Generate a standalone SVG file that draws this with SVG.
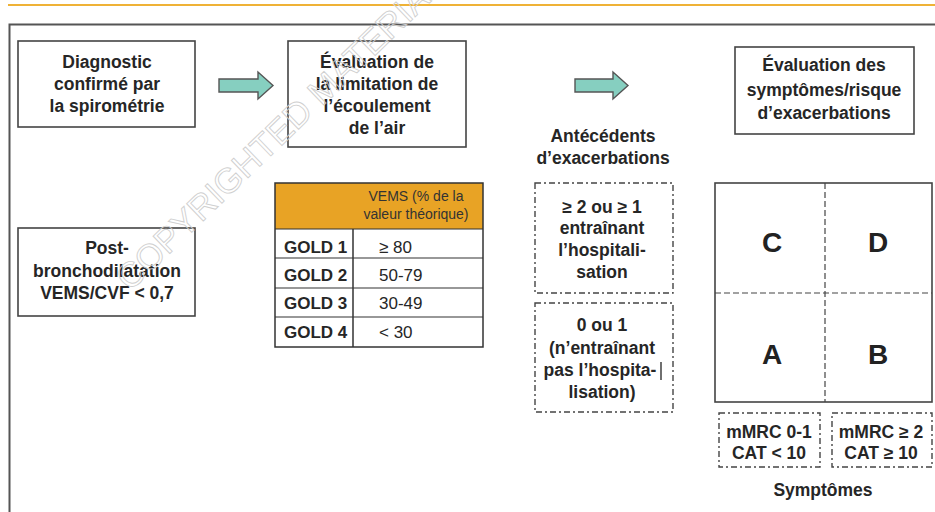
<svg xmlns="http://www.w3.org/2000/svg" width="935" height="512" viewBox="0 0 935 512">
<defs>
<style>
.t{font-family:"Liberation Sans",Arial,sans-serif;font-weight:bold;font-size:17.5px;fill:#262626;text-anchor:middle}
.g{font-family:"Liberation Sans",Arial,sans-serif;font-weight:bold;font-size:17px;fill:#262626;text-anchor:start}
.v{font-family:"Liberation Sans",Arial,sans-serif;font-size:17px;fill:#262626;text-anchor:start}
.h{font-family:"Liberation Sans",Arial,sans-serif;font-size:14px;fill:#333;text-anchor:middle}
.box{fill:#fff;stroke:#444;stroke-width:1.6}
.dash{fill:none;stroke:#444;stroke-width:1.4;stroke-dasharray:6,3,2,3}
.big{font-family:"Liberation Sans",Arial,sans-serif;font-weight:bold;font-size:28px;fill:#222;text-anchor:middle}
.arrow{fill:#86CFC0;stroke:#555;stroke-width:1.4}
.wm{font-family:"Liberation Sans",Arial,sans-serif;font-size:35px;fill:none;stroke:#cfcfcf;stroke-width:0.9}
</style>
</defs>
<rect width="935" height="512" fill="#fff"/>
<line x1="8" y1="5" x2="935" y2="5" stroke="#EFB236" stroke-width="2"/>
<path d="M9.5 512 V24.5 H935" fill="none" stroke="#555" stroke-width="2"/>

<g id="connectors">
<path class="arrow" d="M219 79 H258 V72 L273 85.5 L258 99 V92 H219 Z"/>
<path class="arrow" d="M575 79 H613 V72 L628 85.5 L613 99 V92 H575 Z"/>
</g>

<g id="diagnostic">
<rect class="box" x="18" y="41" width="177" height="86"/>
<text class="t" x="107" y="68">Diagnostic</text>
<text class="t" x="107" y="90">confirmé par</text>
<text class="t" x="107" y="112">la spirométrie</text>
</g>

<g id="evaluation-limitation">
<rect class="box" x="288" y="41" width="178" height="106"/>
<text class="t" x="377" y="68">Évaluation de</text>
<text class="t" x="377" y="90">la limitation de</text>
<text class="t" x="377" y="112">l’écoulement</text>
<text class="t" x="377" y="134">de l’air</text>
</g>

<g id="evaluation-symptomes">
<rect class="box" x="735" y="47" width="179" height="87"/>
<text class="t" x="824" y="71">Évaluation des</text>
<text class="t" x="824" y="96">symptômes/risque</text>
<text class="t" x="824" y="119">d’exacerbations</text>
</g>

<g id="post-bronchodilatation">
<rect class="box" x="18" y="228" width="177" height="88"/>
<text class="t" x="107" y="254">Post-</text>
<text class="t" x="107" y="277">bronchodilatation</text>
<text class="t" x="107" y="299">VEMS/CVF &lt; 0,7</text>
</g>

<g id="gold-table">
<rect x="275" y="183" width="208" height="46" fill="#E8A325"/>
<text class="h" x="416" y="201">VEMS (% de la</text>
<text class="h" x="416" y="219">valeur théorique)</text>
<rect x="275" y="183" width="208" height="164" fill="none" stroke="#333" stroke-width="1.5"/>
<line x1="275" y1="229" x2="483" y2="229" stroke="#333" stroke-width="1.2"/>
<line x1="275" y1="258" x2="483" y2="258" stroke="#333" stroke-width="1.2"/>
<line x1="275" y1="288" x2="483" y2="288" stroke="#333" stroke-width="1.2"/>
<line x1="275" y1="317" x2="483" y2="317" stroke="#333" stroke-width="1.2"/>
<line x1="353" y1="229" x2="353" y2="347" stroke="#333" stroke-width="1.5"/>
<text class="g" x="284" y="253">GOLD 1</text>
<text class="g" x="284" y="281">GOLD 2</text>
<text class="g" x="284" y="309">GOLD 3</text>
<text class="g" x="284" y="338">GOLD 4</text>
<text class="v" x="379" y="253">≥ 80</text>
<text class="v" x="379" y="281">50-79</text>
<text class="v" x="379" y="309">30-49</text>
<text class="v" x="379" y="338">&lt; 30</text>
</g>

<g id="antecedents-label">
<text class="t" x="603" y="142">Antécédents</text>
<text class="t" x="603" y="164">d’exacerbations</text>
</g>

<g id="exac-high">
<rect class="dash" x="535" y="183" width="138" height="110"/>
<text class="t" x="602" y="213">≥ 2 ou ≥ 1</text>
<text class="t" x="602" y="234">entraînant</text>
<text class="t" x="602" y="256">l’hospitali-</text>
<text class="t" x="602" y="278">sation</text>
</g>

<g id="exac-low">
<rect class="dash" x="535" y="303" width="138" height="109"/>
<text class="t" x="602" y="331">0 ou 1</text>
<text class="t" x="602" y="354">(n’entraînant</text>
<text class="t" x="600" y="376">pas l’hospita-</text>
<line x1="661" y1="362" x2="661" y2="380" stroke="#222" stroke-width="1.3"/>
<text class="t" x="602" y="398">lisation)</text>
</g>

<g id="grid">
<rect x="715" y="183" width="217" height="219" fill="#fff" stroke="#444" stroke-width="1.6"/>
<line x1="825" y1="183" x2="825" y2="402" stroke="#444" stroke-width="1.2" stroke-dasharray="6,3"/>
<line x1="715" y1="293" x2="932" y2="293" stroke="#444" stroke-width="1.2" stroke-dasharray="6,3"/>
<text class="big" x="772" y="252">C</text>
<text class="big" x="878" y="252">D</text>
<text class="big" x="772" y="364">A</text>
<text class="big" x="878" y="364">B</text>
</g>

<g id="mmrc-low">
<rect class="dash" x="719" y="413" width="101" height="54"/>
<text class="t" x="769" y="438">mMRC 0-1</text>
<text class="t" x="769" y="459">CAT &lt; 10</text>
</g>

<g id="mmrc-high">
<rect class="dash" x="832" y="413" width="100" height="54"/>
<text class="t" x="881" y="438">mMRC ≥ 2</text>
<text class="t" x="881" y="459">CAT ≥ 10</text>
</g>

<g id="symptomes-label">
<text class="t" x="823" y="496">Symptômes</text>
</g>

<text class="wm" transform="translate(130 292) rotate(-44)">COPYRIGHTED MATERIAL</text>
</svg>
